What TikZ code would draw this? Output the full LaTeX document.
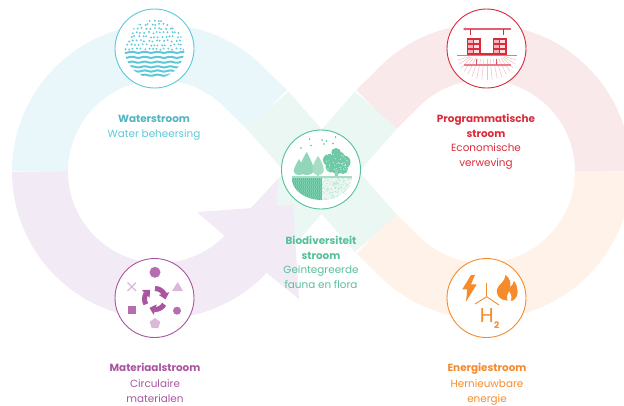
\documentclass[tikz,border=0pt]{standalone}
\usepackage{fontspec}
\setmainfont{Poppins}
\usetikzlibrary{arrows.meta,bending}
\definecolor{waterc}{HTML}{5CC8D8}
\definecolor{waterl}{HTML}{EAF7FA}
\definecolor{progc}{HTML}{D92B3A}
\definecolor{progl}{HTML}{F9E9EB}
\definecolor{energyc}{HTML}{F68B2C}
\definecolor{energyl}{HTML}{FEF2E9}
\definecolor{matc}{HTML}{A9559F}
\definecolor{matm}{HTML}{B56FB0}
\definecolor{matp}{HTML}{D9B8D8}
\definecolor{matl}{HTML}{F2EBF5}
\definecolor{bioc}{HTML}{56C098}
\definecolor{biom}{HTML}{A6DDC4}
\definecolor{biol}{HTML}{EAF7F2}
\tikzset{
  band/.style={line width=56pt},
  iconring/.style={circle, minimum size=79pt, fill=white, line width=0.9pt},
  title/.style={font=\fontsize{10.4}{15}\selectfont\bfseries, align=center, anchor=north},
  sub/.style={font=\fontsize{10.4}{15}\selectfont, align=center, anchor=north},
  recycle/.style={line width=5pt, color=matc, -{Triangle[length=6pt,width=10.5pt,flex=1]}}
}
\begin{document}
\begin{tikzpicture}
[x=1pt, y=1pt, every node/.style={inner sep=0pt}]
\clip (0,0) rectangle (624,-405);
% bands
\draw [band, color=waterl] (40,-171.5) arc (180:42.5:119.5) -- (267.5,-110);
\draw [band, color=progl] (603,-171.5) arc (0:137.5:119.5) -- (376,-110);
\draw [band, color=energyl] (603,-171.5) arc (0:-137.5:119.5) -- (376,-233.5);
\draw [band, color=biol] (267.5,-110) -- (376,-233.5);
\draw [band, color=biol] (376,-110) -- (247.5,-256);
\draw [band, color=matl] (40,-171.5) arc (180:317.5:119.5) -- (247.5,-256);
\fill [color=matl] (197,-212) -- (293,-205) -- (299,-299) -- (268,-274) -- (227,-238) -- cycle;
% rings
\node (water) [iconring, draw=waterc] at (154.5,-48.5) {};
\node (prog) [iconring, draw=progc] at (486.5,-48.5) {};
\node (bio) [iconring, draw=bioc] at (321,-169.5) {};
\node (mat) [iconring, draw=matc] at (154.5,-298) {};
\node (energy) [iconring, draw=energyc] at (486.5,-298) {};
% water
\begin{scope}
\clip (124.5,-50.5) rectangle (184.5,-15);
\clip (154.5,-50.5) ellipse (30 and 31);
\pgfmathsetseed{11}
\foreach \dr in {0,...,7}
  \foreach \dc in {0,...,15}
    \fill [color=waterc] ({125+3.9*\dc+1.9*mod(\dr,2)+1.2*rand},{-49+4.1*\dr+0.8*rand}) circle (1.05);
\end{scope}
\begin{scope}
\clip (154.5,-48.5) circle (30);
\foreach \yy in {-52.3,-57.3,-62.2,-66.8,-71,-75.2}
  \draw [line width=2pt, color=waterc] plot [domain=122:188, samples=50, smooth] (\x,{\yy+0.55*sin(28*\x)});
\end{scope}
% programme
\draw [line width=1.1pt, color=progc!75!white, -{Triangle[length=2.5pt,width=3pt]}] (511,-29) -- (463,-29);
\draw [line width=0.8pt, color=progc] (470.7,-29) -- (470.7,-35);
\draw [line width=0.8pt, color=progc] (503,-29) -- (503,-35);
\foreach \a in {190,200,...,350}
  \draw [line width=0.5pt, color=progc!30!white] ({487+18*cos(\a)},{-56+3*sin(\a)}) -- ({487+30*cos(\a)},{-56+24*sin(\a)});
\draw [line width=1.3pt, color=progc!65!white] (457,-55.3) -- (517,-55.3);
\draw [line width=1.1pt, color=progc!60!white] (464,-65) -- (511,-65);
\draw [line width=0.8pt, color=progc!80!white] (476.7,-59) -- (476.7,-65);
\draw [line width=0.8pt, color=progc!80!white] (496.7,-59) -- (496.7,-65);
\foreach \bx in {466.7,492.7} {
  \fill [color=progc] (\bx,-38) rectangle ++(14.5,-17);
  \foreach \wy in {-39.5,-44.5,-49.5} {
    \fill [color=progc!35!white] (\bx+1,\wy) rectangle ++(5.5,-3);
    \fill [color=progc!15!white] (\bx+7.5,\wy) rectangle ++(5,-3);
  }
}
\draw [line width=1.6pt, color=progc] (481,-54.2) -- (493,-54.2);
% biodiversity
\fill [color=biom!75!bioc] (299,-159) .. controls (296,-164) and (293,-170) .. (294,-172) .. controls (295,-176) and (303,-176) .. (304,-172) .. controls (305,-170) and (302,-164) .. (299,-159) -- cycle;
\fill [color=biom!75!bioc] (306.7,-152) .. controls (303,-158) and (298,-168) .. (300,-172) .. controls (301,-176) and (312,-176) .. (313.5,-172) .. controls (315,-168) and (310,-158) .. (306.7,-152) -- cycle;
\fill [color=biom] (318,-156) .. controls (315,-160) and (311,-168) .. (313,-172) .. controls (314,-176) and (322,-176) .. (323.5,-172) .. controls (325,-168) and (321,-160) .. (318,-156) -- cycle;
\fill [color=biom] (316.5,-172) rectangle (319,-177);
\foreach \cx/\cy/\cr in {337/-160/9,329/-160/6,344/-162/6.5,331/-167/5.5,343/-169/5,337/-168/6,336/-153/5}
  \fill [color=bioc!85!white] (\cx,\cy) circle (\cr);
\pgfmathsetseed{5}
\foreach \n in {1,...,45}
  \fill [color=white] ({337+11*rand},{-161+9*rand}) circle (0.45);
\fill [color=bioc!70!white] (335,-170) rectangle (338,-178);
\fill [color=biom] (291.7,-176) rectangle (351.7,-179);
\begin{scope}
\clip (291.7,-178) -- (351.7,-178) arc (0:-180:30 and 22) -- cycle;
\fill [color=bioc] (291.7,-178) rectangle (321.7,-202);
\fill [color=biol] (321.7,-178) rectangle (351.7,-202);
\foreach \gx in {0,...,14}
  \foreach \gy in {0,...,11}
    \fill [color=white, opacity=0.55] ({292.5+2*\gx+0.5*mod(\gy,2)},{-179+\gy*-2}) circle (0.55);
\foreach \n in {1,...,220}
  \fill [color=bioc!70!white] ({336.7+15*rand},{-190+12*rand}) circle (0.32);
\end{scope}
\foreach \bx/\by in {309.5/-139,301/-148,311/-145.5,324/-144,326.5/-141,333/-143.5,335.5/-137,322/-140}
  \fill [color=bioc] (\bx,\by) circle (0.8);
% materials
\fill [color=matm] (155,-272.3) circle (5.5);
\draw [line width=1.2pt, color=matp] (127.5,-282.5) -- (136,-291);
\draw [line width=1.2pt, color=matp] (136,-282.5) -- (127.5,-291);
\fill [color=matp] (177.7,-282) -- (183,-291) -- (172,-291) -- cycle;
\fill [color=matm] (127.7,-306) rectangle (135.7,-314);
\fill [color=matm] (177,-310.7) circle (4);
\fill [color=matp] (155,-318) -- (160.3,-321.8) -- (158.3,-328) -- (151.7,-328) -- (149.7,-321.8) -- cycle;
\foreach \a in {210,90,-30}
  \draw [recycle] ([shift={(\a:10.5)}]155,-299) arc (\a:\a-92:10.5);
% energy
\fill [color=energyc] (471,-275) -- (462.3,-289.3) -- (467.3,-289.3) -- (466,-301.7) -- (476.7,-284.3) -- (471,-284.3) -- (475,-275) -- cycle;
\draw [line width=0.9pt, color=energyc] (486.7,-296.7) -- (486.7,-283);
\draw [line width=0.9pt, color=energyc] (486.7,-296.7) -- (475,-304);
\draw [line width=0.9pt, color=energyc] (486.7,-296.7) -- (499,-305);
\fill [color=energyc, even odd rule] (507,-300.5) .. controls (500,-300.5) and (495,-295) .. (497.5,-288) .. controls (499,-284) and (505,-282) .. (505.5,-275) .. controls (510,-278) and (511,-283) .. (510,-287) .. controls (512,-286) and (513,-284) .. (514,-281) .. controls (518,-286) and (520,-296) .. (513,-300.5) -- cycle
  (507.5,-300.5) .. controls (506,-296) and (508,-294) .. (509,-291) .. controls (511,-293) and (512,-296) .. (511,-300.5) -- cycle;
\node (htwo) [text=energyc, font=\fontsize{20}{20}\selectfont] at (486.7,-316) {H};
\node (two) [text=energyc, font=\fontsize{9}{10}\selectfont\bfseries] at (496.7,-325) {2};
% labels
\node (watert) [title, text=waterc!90!black] at (154,-115) {Waterstroom};
\node (waters) [sub, text=waterc] at (154,-129.5) {Water beheersing};
\node (progt) [title, text=progc] at (486,-114) {Programmatische\\stroom};
\node (progs) [sub, text=progc] at (486,-143) {Economische\\verweving};
\node (biot) [title, text=bioc] at (321,-235.5) {Biodiversiteit\\stroom};
\node (bios) [sub, text=bioc] at (321,-265.5) {Geïntegreerde\\fauna en flora};
\node (matt) [title, text=matc] at (155,-363) {Materiaalstroom};
\node (mats) [sub, text=matc] at (155,-379) {Circulaire\\materialen};
\node (energyt) [title, text=energyc] at (487,-363) {Energiestroom};
\node (energys) [sub, text=energyc] at (487,-379) {Hernieuwbare\\energie};
\end{tikzpicture}
\end{document}
